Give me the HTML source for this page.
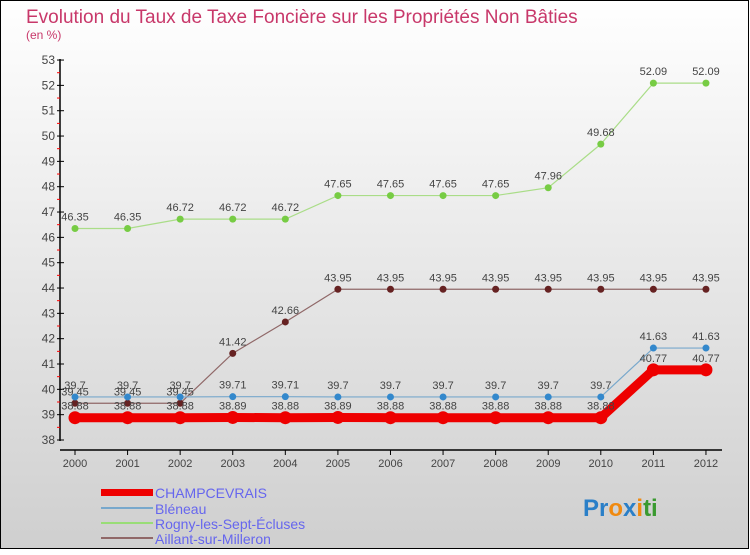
<!DOCTYPE html>
<html><head><meta charset="utf-8"><style>
body{margin:0;}
svg text{font-family:"Liberation Sans",sans-serif;}
</style></head><body>
<svg id="c" width="750" height="550" xmlns="http://www.w3.org/2000/svg">
<defs><linearGradient id="bg" x1="0" y1="0" x2="0" y2="1"><stop offset="0" stop-color="#ffffff"/><stop offset="1" stop-color="#cfcfcf"/></linearGradient></defs>
<rect x="0.5" y="0.5" width="748" height="548" fill="url(#bg)" stroke="#000"/>
<text x="26" y="23" font-size="19" fill="#c8386a">Evolution du Taux de Taxe Foncière sur les Propriétés Non Bâties</text>
<text x="26" y="39" font-size="12" fill="#c8386a">(en %)</text>
<g id="axes"></g><g id="series"></g>
<g>
<rect x="101" y="489" width="52" height="7" fill="#e00"/>
<text x="155" y="498" font-size="14" fill="#6666ee">CHAMPCEVRAIS</text>
<line x1="101" y1="508" x2="153" y2="508" stroke="#78a8cc" stroke-width="2"/>
<text x="155" y="514" font-size="14" fill="#6666ee">Bléneau</text>
<line x1="101" y1="523" x2="153" y2="523" stroke="#99dd77" stroke-width="2"/>
<text x="155" y="529" font-size="14" fill="#6666ee">Rogny-les-Sept-Écluses</text>
<line x1="101" y1="538" x2="153" y2="538" stroke="#906868" stroke-width="2"/>
<text x="155" y="544" font-size="14" fill="#6666ee">Aillant-sur-Milleron</text>
</g>
<text x="583" y="516" font-size="24" font-weight="bold"><tspan fill="#2a7fc8">Pr</tspan><tspan fill="#f08a10">o</tspan><tspan fill="#2a7fc8">x</tspan><tspan fill="#f08a10">i</tspan><tspan fill="#3a9a30">ti</tspan></text>
</svg>
<script>
const years=[2000,2001,2002,2003,2004,2005,2006,2007,2008,2009,2010,2011,2012];
const yTicks=[38,39,40,41,42,43,44,45,46,47,48,49,50,51,52,53];
const champ=[38.88,38.88,38.88,38.89,38.88,38.89,38.88,38.88,38.88,38.88,38.88,40.77,40.77];
const bleneau=[39.7,39.7,39.7,39.71,39.71,39.7,39.7,39.7,39.7,39.7,39.7,41.63,41.63];
const rogny=[46.35,46.35,46.72,46.72,46.72,47.65,47.65,47.65,47.65,47.96,49.68,52.09,52.09];
const aillant=[39.45,39.45,39.45,41.42,42.66,43.95,43.95,43.95,43.95,43.95,43.95,43.95,43.95];
const NS="http://www.w3.org/2000/svg";
const xS=i=>75+i*52.58;
const yS=v=>440-(v-38)*25.33;
function mk(t,a,p){const e=document.createElementNS(NS,t);for(const k in a)e.setAttribute(k,a[k]);p.appendChild(e);return e;}
const ax=document.getElementById('axes');
let l=mk('line',{x1:60,y1:59,x2:60,y2:441,stroke:'#000','stroke-width':1.5},ax);


l=mk('line',{x1:60,y1:450,x2:722,y2:450,stroke:'#000','stroke-width':1.5},ax);


yTicks.forEach(v=>{const y=yS(v);
mk('line',{x1:57,y1:y,x2:64,y2:y,stroke:'#000'},ax);
if(v<53)mk('line',{x1:57,y1:y-12.67,x2:60,y2:y-12.67,stroke:'#f00'},ax);
const t=mk('text',{x:55,y:y+4,'font-size':12,fill:'#444','text-anchor':'end'},ax);t.textContent=v;

});
years.forEach((yr,i)=>{const x=xS(i);
mk('line',{x1:x,y1:450,x2:x,y2:455,stroke:'#000'},ax);
const t=mk('text',{x:x,y:467,'font-size':11,fill:'#444','text-anchor':'middle'},ax);t.textContent=yr;

});
const sg=document.getElementById('series');
function series(vals,name,col,dot,w,r){
const g=mk('g',{},sg);


const p=mk('polyline',{points:vals.map((v,i)=>xS(i)+','+yS(v)).join(' '),fill:'none',stroke:col,'stroke-width':w},g);


vals.forEach((v,i)=>{const c=mk('circle',{cx:xS(i),cy:yS(v),r:r,fill:dot},g);


const t=mk('text',{x:xS(i),y:yS(v)-8,'font-size':11,fill:'#444','text-anchor':'middle'},g);t.textContent=v.toFixed(2).replace(/0$/,'');

});}
series(rogny,'rogny','#aadd88','#77cc44',1.2,3.5);
series(aillant,'aillant','#906868','#662222',1.2,3.5);
series(bleneau,'bleneau','#78a8cc','#3388cc',1.2,3.5);
series(champ,'champcevrais','#ee0000','#ee0000',9,6.5);
</script>
</body></html>
